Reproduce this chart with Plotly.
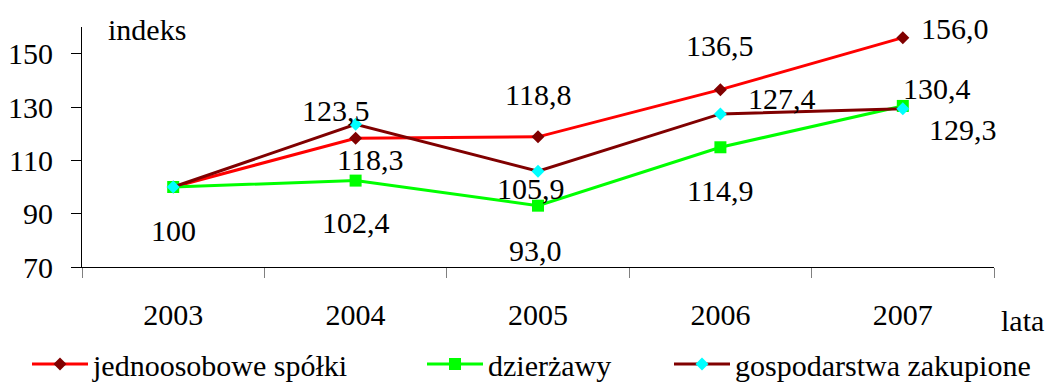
import plotly.graph_objects as go

# Index values (2003 = 100)
years = ["2003", "2004", "2005", "2006", "2007"]
spolki = [100, 118.3, 118.8, 136.5, 156.0]
dzierzawy = [100, 102.4, 93.0, 114.9, 130.4]
zakupione = [100, 123.5, 105.9, 127.4, 129.3]

series_names = ["jednoosobowe spółki", "dzierżawy", "gospodarstwa zakupione"]

FONT = "Liberation Serif, Times New Roman, serif"
FS = 30

# plot area in pixels (used to place the free-standing axis captions)
W, H = 1046, 383
ML, MR, MT, MB = 82, 52, 27, 116
PW, PH = W - ML - MR, H - MT - MB


def fmt(v, i):
    # base year is printed as a plain integer, the rest with a decimal comma
    if i == 0:
        return f"{v:.0f}"
    return f"{v:.1f}".replace(".", ",")


def px_to_paper(px, py):
    return (px - ML) / PW, (H - MB - py) / PH


fig = go.Figure()

styles = [
    dict(line=dict(color="#FF0000", width=3),
         marker=dict(symbol="diamond", size=10, color="#800000")),
    dict(line=dict(color="#00FF00", width=3),
         marker=dict(symbol="square", size=12, color="#00FF00")),
    dict(line=dict(color="#800000", width=3),
         marker=dict(symbol="diamond", size=10, color="#00FFFF")),
]
legend_ids = ["legend", "legend2", "legend3"]

for name, vals, st, lg in zip(series_names, [spolki, dzierzawy, zakupione], styles, legend_ids):
    fig.add_trace(go.Scatter(x=years, y=vals, mode="lines+markers", name=name,
                             legend=lg, **st))

# label offsets (px) per point; None = no label
offsets = [
    [(0, 43), (14, 21), (0, -42), (0, -44), (52, -9)],
    [None, (0, 42), (-3, 45), (0, 43), (34, -17)],
    [None, (-20, -14), (-7, 17), (62, -15), (60, 21)],
]

for vals, offs in zip([spolki, dzierzawy, zakupione], offsets):
    for i, (v, off) in enumerate(zip(vals, offs)):
        if off is None:
            continue
        # category axis: position by category index
        fig.add_annotation(x=i, y=v, xref="x", yref="y", text=fmt(v, i),
                           showarrow=False, xshift=off[0], yshift=-off[1],
                           xanchor="center", yanchor="middle",
                           font=dict(family=FONT, size=FS, color="black"))

for txt, (px, py) in [("indeks", (147, 30)), ("lata", (1022, 320))]:
    ax, ay = px_to_paper(px, py)
    fig.add_annotation(x=ax, y=ay, xref="paper", yref="paper", text=txt,
                       showarrow=False, xanchor="center", yanchor="middle",
                       font=dict(family=FONT, size=FS, color="black"))

legend_common = dict(orientation="h", xref="container", yref="container",
                     yanchor="middle", xanchor="left", itemwidth=56,
                     font=dict(family=FONT, size=FS, color="black"),
                     bgcolor="rgba(0,0,0,0)")

fig.update_layout(
    width=W, height=H,
    margin=dict(l=ML, r=MR, t=MT, b=MB),
    paper_bgcolor="white", plot_bgcolor="white",
    font=dict(family=FONT, size=FS, color="black"),
    showlegend=True,
    legend=dict(x=27 / W, y=19 / H, **legend_common),
    legend2=dict(x=422 / W, y=19 / H, **legend_common),
    legend3=dict(x=669 / W, y=19 / H, **legend_common),
    xaxis=dict(type="category", range=[-0.5, 4.5], tickson="boundaries",
               ticks="outside", ticklen=10, tickcolor="#808080", showline=True,
               linecolor="black", linewidth=1, showgrid=False, zeroline=False,
               automargin=False, ticklabelstandoff=21,
               tickfont=dict(family=FONT, size=FS)),
    yaxis=dict(range=[70, 160], tick0=70, dtick=20, ticks="outside", ticklen=10,
               tickcolor="black", showline=True, linecolor="black", linewidth=1,
               showgrid=False, zeroline=False, automargin=False,
               ticklabelstandoff=12, tickfont=dict(family=FONT, size=FS)),
)

fig.write_html("out.html")
